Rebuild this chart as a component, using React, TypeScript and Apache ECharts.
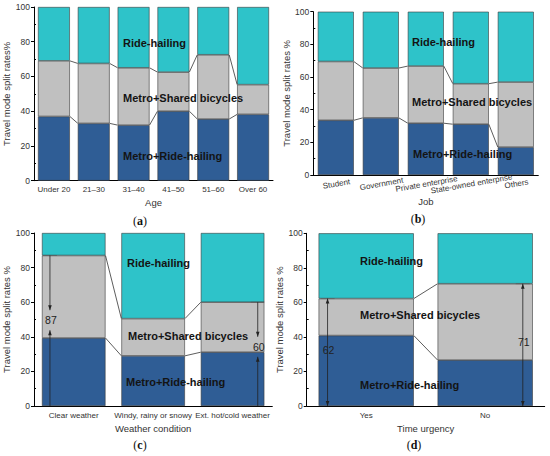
import React, { useEffect, useRef } from 'react';
import * as echarts from 'echarts';

// ---------- data ----------
const ageCategories = ['Under 20', '21–30', '31–40', '41–50', '51–60', 'Over 60'];
const ageMetroRideHailing = [37, 33, 32, 40, 35.5, 38.2];
const ageMetroSharedBikes = [32, 34.5, 33, 22.5, 37, 17.1];
const ageRideHailing = [31, 32.5, 35, 37.5, 27.5, 44.7];

const jobCategories = ['Student', 'Government', 'Private enterprise', 'State-owned enterprise', 'Others'];
const jobMetroRideHailing = [33.5, 35, 31.7, 31.1, 17.1];
const jobMetroSharedBikes = [36, 30.5, 35, 24.8, 39.8];
const jobRideHailing = [30.5, 34.5, 33.3, 44.1, 43.1];

const weatherCategories = ['Clear weather', 'Windy, rainy or snowy', 'Ext. hot/cold weather'];
const weatherMetroRideHailing = [39.3, 29, 31.1];
const weatherMetroSharedBikes = [47.7, 21.5, 28.9];
const weatherRideHailing = [13, 49.5, 40];
const weatherAnnotated = [0, 2];

const urgencyCategories = ['Yes', 'No'];
const urgencyMetroRideHailing = [40.8, 26.6];
const urgencyMetroSharedBikes = [21.4, 44.2];
const urgencyRideHailing = [37.8, 29.2];
const urgencyAnnotated = [0, 1];

const seriesNames = ['Metro+Ride-hailing', 'Metro+Shared bicycles', 'Ride-hailing'];
const yTicks = { min: 0, max: 100, interval: 20 };

// ---------- style ----------
const DARK = '#2f5d95';
const GRAY = '#c0c0c0';
const CYAN = '#2ec3c9';
const BORDER = '#3a3a3a';
const FONT = '"Liberation Sans", Arial, sans-serif';
const BAR_FRAC = 0.8;

const grids = [
  { left: 34, top: 7, width: 239, height: 173.7 },
  { left: 313.3, top: 11.7, width: 225, height: 163.3 },
  { left: 34, top: 233, width: 238.3, height: 173 },
  { left: 306.7, top: 233.3, width: 238, height: 172.7 },
];
const yNameGaps = [12, 14, 14, 13];

const panels = [
  { cats: ageCategories, d: ageMetroRideHailing, s: ageMetroSharedBikes, r: ageRideHailing, xName: 'Age', yName: 'Travel mode split rates%' },
  { cats: jobCategories, d: jobMetroRideHailing, s: jobMetroSharedBikes, r: jobRideHailing, xName: 'Job', yName: 'Travel mode split rates %' },
  { cats: weatherCategories, d: weatherMetroRideHailing, s: weatherMetroSharedBikes, r: weatherRideHailing, xName: 'Weather condition', yName: 'Travel mode split rates %' },
  { cats: urgencyCategories, d: urgencyMetroRideHailing, s: urgencyMetroSharedBikes, r: urgencyRideHailing, xName: 'Time urgency', yName: 'Travel mode split rates %' },
];

// series-name text positions (pixels) per panel: [ride-hailing, shared, metro+ride]
const namePositions = [
  [[123, 43], [123, 98], [123, 156]],
  [[412, 42], [412, 102], [413, 154]],
  [[127, 263], [128, 336], [126, 382]],
  [[360, 261], [360, 315], [360, 385]],
];
const captions = [
  ['a', 140, 221],
  ['b', 418, 219],
  ['c', 140, 445],
  ['d', 414, 445],
];

function connectorSeries(idx: number, dark: number[], shared: number[]) {
  const data: number[][] = [];
  for (let i = 0; i < dark.length - 1; i++) {
    data.push([i, dark[i], dark[i + 1]]);
    data.push([i, dark[i] + shared[i], dark[i + 1] + shared[i + 1]]);
  }
  return {
    type: 'custom',
    xAxisIndex: idx,
    yAxisIndex: idx,
    silent: true,
    z: 5,
    data,
    encode: { x: 0, y: [1, 2] },
    renderItem: (params: any, api: any) => {
      const i = api.value(0);
      const p0 = api.coord([i, api.value(1)]);
      const p1 = api.coord([i + 1, api.value(2)]);
      const hb = (api.size([1, 0])[0] * BAR_FRAC) / 2;
      return {
        type: 'line',
        shape: { x1: p0[0] + hb, y1: p0[1], x2: p1[0] - hb, y2: p1[1] },
        style: { stroke: '#333', lineWidth: 0.8 },
      };
    },
  };
}

function annotationSeries(
  idx: number,
  cats: number[],
  dark: number[],
  shared: number[],
  mode: 'inward' | 'outward',
  offsets: number[],
  labelFrac: number
) {
  const data = cats.map((c, k) => [c, dark[c] + shared[c], k]);
  return {
    type: 'custom',
    xAxisIndex: idx,
    yAxisIndex: idx,
    silent: true,
    z: 6,
    data,
    encode: { x: 0, y: 1 },
    renderItem: (params: any, api: any) => {
      const c = api.value(0);
      const total = api.value(1);
      const k = api.value(2);
      const bw = api.size([1, 0])[0] * BAR_FRAC;
      const base = api.coord([c, 0]);
      const x = base[0] - bw / 2 + offsets[k] * bw;
      const yTop = api.coord([c, total])[1];
      const yBot = base[1];
      const yLab = api.coord([c, total * labelFrac])[1];
      const stroke = '#222';
      const children: any[] = [];
      const arrow = (tipY: number, dir: number) => ({
        type: 'polygon',
        shape: { points: [[x, tipY], [x - 1.8, tipY - dir * 5], [x + 1.8, tipY - dir * 5]] },
        style: { fill: stroke },
      });
      children.push({ type: 'line', shape: { x1: x - 7, y1: yTop, x2: x + 7, y2: yTop }, style: { stroke: '#555', lineWidth: 0.6 } });
      if (mode === 'inward') {
        children.push({ type: 'line', shape: { x1: x, y1: yTop, x2: x, y2: yLab - 10 }, style: { stroke, lineWidth: 0.8 } });
        children.push(arrow(yLab - 10, 1));
        children.push({ type: 'line', shape: { x1: x, y1: yBot, x2: x, y2: yLab + 10 }, style: { stroke, lineWidth: 0.8 } });
        children.push(arrow(yLab + 10, -1));
      } else {
        children.push({ type: 'line', shape: { x1: x, y1: yTop, x2: x, y2: yBot }, style: { stroke, lineWidth: 0.8 } });
        children.push(arrow(yTop, -1));
        children.push(arrow(yBot, 1));
      }
      children.push({
        type: 'text',
        style: {
          text: String(Math.round(total)),
          x: x + 1,
          y: yLab,
          align: 'center',
          verticalAlign: 'middle',
          fontSize: 10.5,
          fontFamily: FONT,
          fill: '#222',
        },
      });
      return { type: 'group', children };
    },
  };
}

export default function App() {
  const ref = useRef<HTMLDivElement>(null);
  useEffect(() => {
    if (!ref.current) return;
    const chart = echarts.init(ref.current, null, { renderer: 'svg' });

    const xAxis = panels.map((p, i) => ({
      type: 'category',
      gridIndex: i,
      data: p.cats,
      name: p.xName,
      nameLocation: 'middle',
      nameGap: i === 1 ? 19 : 17,
      nameTextStyle: { fontSize: 9.5, color: '#333', fontFamily: FONT },
      axisLine: { lineStyle: { color: '#000', width: 1 } },
      axisTick: { alignWithLabel: true, length: 3, lineStyle: { color: '#000' } },
      axisLabel: {
        interval: 0,
        fontSize: 8,
        color: '#333',
        fontFamily: FONT,
        margin: 5,
        rotate: i === 1 ? 10 : 0,
        align: 'center',
        verticalAlign: 'top',
      },
    }));

    const yAxis = panels.map((p, i) => ({
      type: 'value',
      gridIndex: i,
      min: yTicks.min,
      max: yTicks.max,
      interval: yTicks.interval,
      name: p.yName,
      nameLocation: 'middle',
      nameGap: yNameGaps[i],
      nameTextStyle: { fontSize: 9.5, color: '#333', fontFamily: FONT },
      axisLine: { show: true, lineStyle: { color: '#000', width: 1 } },
      axisTick: { show: true, length: 3, lineStyle: { color: '#000' } },
      minorTick: { show: true, splitNumber: 2, length: -2, lineStyle: { color: '#000' } },
      splitLine: { show: false },
      axisLabel: { fontSize: 8.5, color: '#333', fontFamily: FONT, margin: 4 },
    }));

    const series: any[] = [];
    panels.forEach((p, i) => {
      const layers = [p.d, p.s, p.r];
      const colors = [DARK, GRAY, CYAN];
      layers.forEach((vals, j) => {
        series.push({
          type: 'bar',
          name: seriesNames[j],
          xAxisIndex: i,
          yAxisIndex: i,
          stack: 'panel' + i,
          data: vals,
          barCategoryGap: '20%',
          itemStyle: { color: colors[j], borderColor: BORDER, borderWidth: 0.6 },
          silent: true,
        });
      });
      series.push(connectorSeries(i, p.d, p.s));
    });
    series.push(annotationSeries(2, weatherAnnotated, weatherMetroRideHailing, weatherMetroSharedBikes, 'inward', [0.126, 0.896], 0.57));
    series.push(annotationSeries(3, urgencyAnnotated, urgencyMetroRideHailing, urgencyMetroSharedBikes, 'outward', [0.094, 0.895], 0.52));

    const graphic: any[] = [];
    namePositions.forEach((pos) => {
      const labels = [seriesNames[2], seriesNames[1], seriesNames[0]];
      pos.forEach((pt, j) => {
        graphic.push({
          type: 'text',
          x: pt[0],
          y: pt[1],
          z: 100,
          style: {
            text: labels[j],
            fontSize: 11,
            fontWeight: 'bold',
            fontFamily: FONT,
            fill: '#141414',
            verticalAlign: 'middle',
            align: 'left',
          },
        });
      });
    });
    captions.forEach(([letter, x, y]) => {
      graphic.push({
        type: 'text',
        x: x as number,
        y: y as number,
        z: 100,
        style: {
          text: '{n|(}{b|' + letter + '}{n|)}',
          align: 'center',
          verticalAlign: 'middle',
          rich: {
            n: { fontSize: 12, fontFamily: '"Liberation Serif", "DejaVu Serif", serif', fill: '#111' },
            b: { fontSize: 12, fontWeight: 'bold', fontFamily: '"Liberation Serif", "DejaVu Serif", serif', fill: '#111' },
          },
        },
      });
    });

    chart.setOption({
      animation: false,
      backgroundColor: '#fff',
      grid: grids.map((g) => ({ ...g, containLabel: false })),
      xAxis,
      yAxis,
      series,
      graphic,
    });
    return () => chart.dispose();
  }, []);

  return <div ref={ref} style={{ position: 'absolute', left: 0, top: 0, width: 550, height: 456 }} />;
}
